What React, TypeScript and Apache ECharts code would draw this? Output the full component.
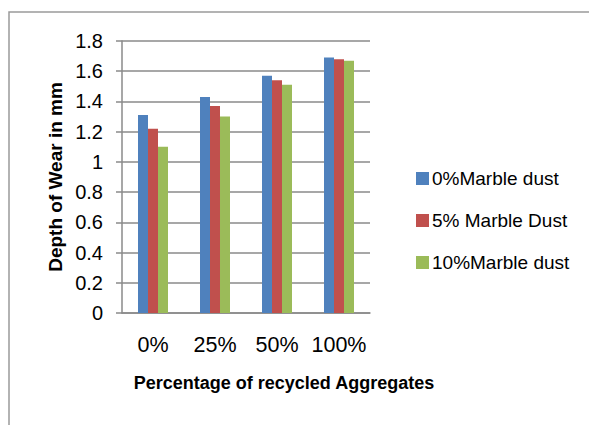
import React, { useEffect, useRef } from "react";
import * as echarts from "echarts";

const categories = ["0%", "25%", "50%", "100%"];
const seriesNames = ["0%Marble dust", "5% Marble Dust", "10%Marble dust"];
const marble0 = [1.31, 1.43, 1.57, 1.69];
const marble5 = [1.22, 1.37, 1.54, 1.68];
const marble10 = [1.1, 1.3, 1.51, 1.67];
const colors = ["#4F81BD", "#C0504D", "#9BBB59"];
const xTitle = "Percentage of recycled Aggregates";
const yTitle = "Depth of Wear in mm";

const FONT = "Liberation Sans, Arial, sans-serif";

export default function App() {
  const ref = useRef<HTMLDivElement>(null);
  useEffect(() => {
    if (!ref.current) return;
    const chart = echarts.init(ref.current, null, { renderer: "svg" });
    const values = [marble0, marble5, marble10];
    chart.setOption({
      animation: false,
      backgroundColor: "#ffffff",
      textStyle: { fontFamily: FONT },
      grid: { left: 122, top: 41, right: 219, bottom: 112, containLabel: false },
      legend: {
        orient: "vertical",
        left: 411,
        top: 164,
        itemWidth: 13,
        itemHeight: 13,
        itemGap: 23,
        icon: "rect",
        textStyle: { fontSize: 19, color: "#000", fontFamily: FONT, padding: [0, 0, 0, -2] },
        data: seriesNames,
      },
      xAxis: {
        type: "category",
        data: categories,
        axisLine: { show: true, lineStyle: { color: "#8a8a8a", width: 1.5 } },
        axisTick: { show: false },
        axisLabel: { fontSize: 21.5, color: "#000", margin: 21, fontFamily: FONT, interval: 0 },
      },
      yAxis: {
        type: "value",
        min: 0,
        max: 1.8,
        interval: 0.2,
        axisLine: { show: true, lineStyle: { color: "#8a8a8a", width: 1.5 } },
        axisTick: { show: true, length: 6, lineStyle: { color: "#8a8a8a", width: 1.5 } },
        splitLine: { show: true, lineStyle: { color: "#8a8a8a", width: 1.5 } },
        axisLabel: { fontSize: 20, color: "#000", margin: 19, fontFamily: FONT },
      },
      series: seriesNames.map((name, i) => ({
        name,
        type: "bar",
        data: values[i],
        barWidth: 10,
        barGap: "0%",
        itemStyle: { color: colors[i] },
      })),
      graphic: [
        {
          type: "rect",
          shape: { x: 9, y: 12, width: 700, height: 600 },
          style: { fill: "none", stroke: "#9a9a9a", lineWidth: 1.5 },
          silent: true,
        },
        {
          type: "text",
          x: 284,
          y: 383,
          style: {
            text: xTitle,
            fontSize: 18,
            fontWeight: "bold",
            fontFamily: FONT,
            fill: "#000",
            align: "center",
            verticalAlign: "middle",
          },
        },
        {
          type: "text",
          x: 55,
          y: 177,
          rotation: Math.PI / 2,
          style: {
            text: yTitle,
            fontSize: 19,
            fontWeight: "bold",
            fontFamily: FONT,
            fill: "#000",
            align: "center",
            verticalAlign: "middle",
          },
        },
      ],
    });
    return () => chart.dispose();
  }, []);
  return (
    <div
      ref={ref}
      style={{ position: "fixed", left: 0, top: 0, width: 589, height: 425 }}
    />
  );
}
